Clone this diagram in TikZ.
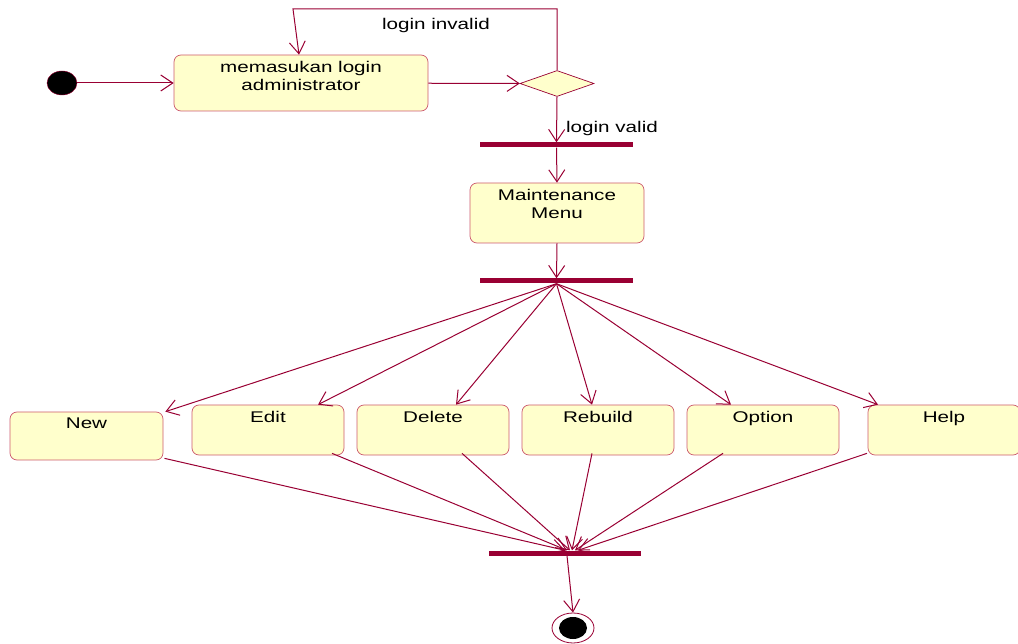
\documentclass[tikz,border=0pt]{standalone}
\usepackage{fontspec}
\setmainfont{Liberation Sans}[FakeStretch=1.33]
\usetikzlibrary{shapes.geometric, arrows.meta, positioning}
\definecolor{maroon}{RGB}{153,0,51}
\definecolor{lyellow}{RGB}{255,255,204}
\definecolor{pinkline}{RGB}{204,90,110}
\tikzstyle{activity} = [rectangle, rounded corners=7pt,
draw=pinkline, fill=lyellow, line width=0.7pt, inner sep=0pt]
\tikzstyle{boxtext} = [anchor=north, inner sep=0pt, align=center,
yshift=-6pt, font=\fontsize{15.5}{18}\selectfont]
\tikzstyle{bar} = [rectangle, fill=maroon, inner sep=0pt,
minimum width=153pt, minimum height=5pt]
\tikzstyle{arrow} = [draw=maroon, line width=1pt, -{Straight Barb[length=12pt,width=16pt]}]

\begin{document}
\begin{tikzpicture}[x=1pt, y=-1pt]
    \useasboundingbox (0,0) rectangle (1018,644);
    % start and login
    \node (init) [ellipse, fill=black, draw=maroon, inner sep=0pt,
        minimum width=30pt, minimum height=24pt] at (62,83) {};
    \node (login) [activity, minimum width=254pt, minimum height=56pt,
        label={[boxtext]north:memasukan login\\administrator}] at (301,83) {};
    \node (dia) [diamond, draw=maroon, fill=lyellow, line width=0.7pt, inner sep=0pt,
        minimum width=74pt, minimum height=26pt] at (557,83.5) {};
    \coordinate (invtop) at (293,9);
    \node (lblinvalid) [font=\fontsize{15.5}{18}\selectfont] at (436,25) {login invalid};
    \node (lblvalid) [font=\fontsize{15.5}{18}\selectfont] at (612,128) {login valid};

    % menu
    \node (bar1) [bar] at (556.5,145) {};
    \node (maint) [activity, minimum width=174pt, minimum height=60pt,
        label={[boxtext]north:Maintenance\\Menu}] at (557,213) {};
    \node (bar2) [bar] at (556.5,281) {};

    % choices
    \node (new) [activity, minimum width=153pt, minimum height=48pt,
        label={[boxtext]north:New}] at (86.5,436) {};
    \node (edit) [activity, minimum width=152pt, minimum height=50pt,
        label={[boxtext]north:Edit}] at (268,430) {};
    \node (delete) [activity, minimum width=152pt, minimum height=50pt,
        label={[boxtext]north:Delete}] at (433,430) {};
    \node (rebuild) [activity, minimum width=152pt, minimum height=50pt,
        label={[boxtext]north:Rebuild}] at (598,430) {};
    \node (option) [activity, minimum width=152pt, minimum height=50pt,
        label={[boxtext]north:Option}] at (763,430) {};
    \node (help) [activity, minimum width=152pt, minimum height=50pt,
        label={[boxtext]north:Help}] at (944,430) {};

    % end
    \node (bar3) [bar, minimum width=152pt] at (565,553) {};
    \node (final) [ellipse, draw=maroon, line width=0.8pt, inner sep=0pt,
        minimum width=42pt, minimum height=30pt] at (573,628) {};
    \node (finaldot) [ellipse, fill=black, inner sep=0pt,
        minimum width=28pt, minimum height=22pt] at (final) {};

    \draw [arrow] (init) -- (login);
    \draw [arrow] (login) -- (dia);
    \draw [arrow] (dia.north) |- (invtop) -- ([xshift=-2pt]login.north);
    \draw [arrow] (dia.south) -- (bar1.north);
    \draw [arrow] (bar1.south) -- (maint.north);
    \draw [arrow] (maint.south) -- (bar2.north);
    \draw [arrow] (bar2.south) -- ([xshift=2pt]new.north east);
    \foreach \t/\dx in {edit/50, delete/23, rebuild/-6, option/-32, help/-66}
        \draw [arrow] (bar2.south) -- ([xshift=\dx pt]\t.north);
    \foreach \s/\dx/\ex in {new/78/0, edit/64/2, delete/29/5, rebuild/-6/7, option/-40/10, help/-77/13}
        \draw [arrow] ([xshift=\dx pt, yshift=2pt]\s.south) -- ([xshift=\ex pt]bar3.north);
    \draw [arrow] ([xshift=2pt]bar3.south) -- (final.north);
\end{tikzpicture}
\end{document}
